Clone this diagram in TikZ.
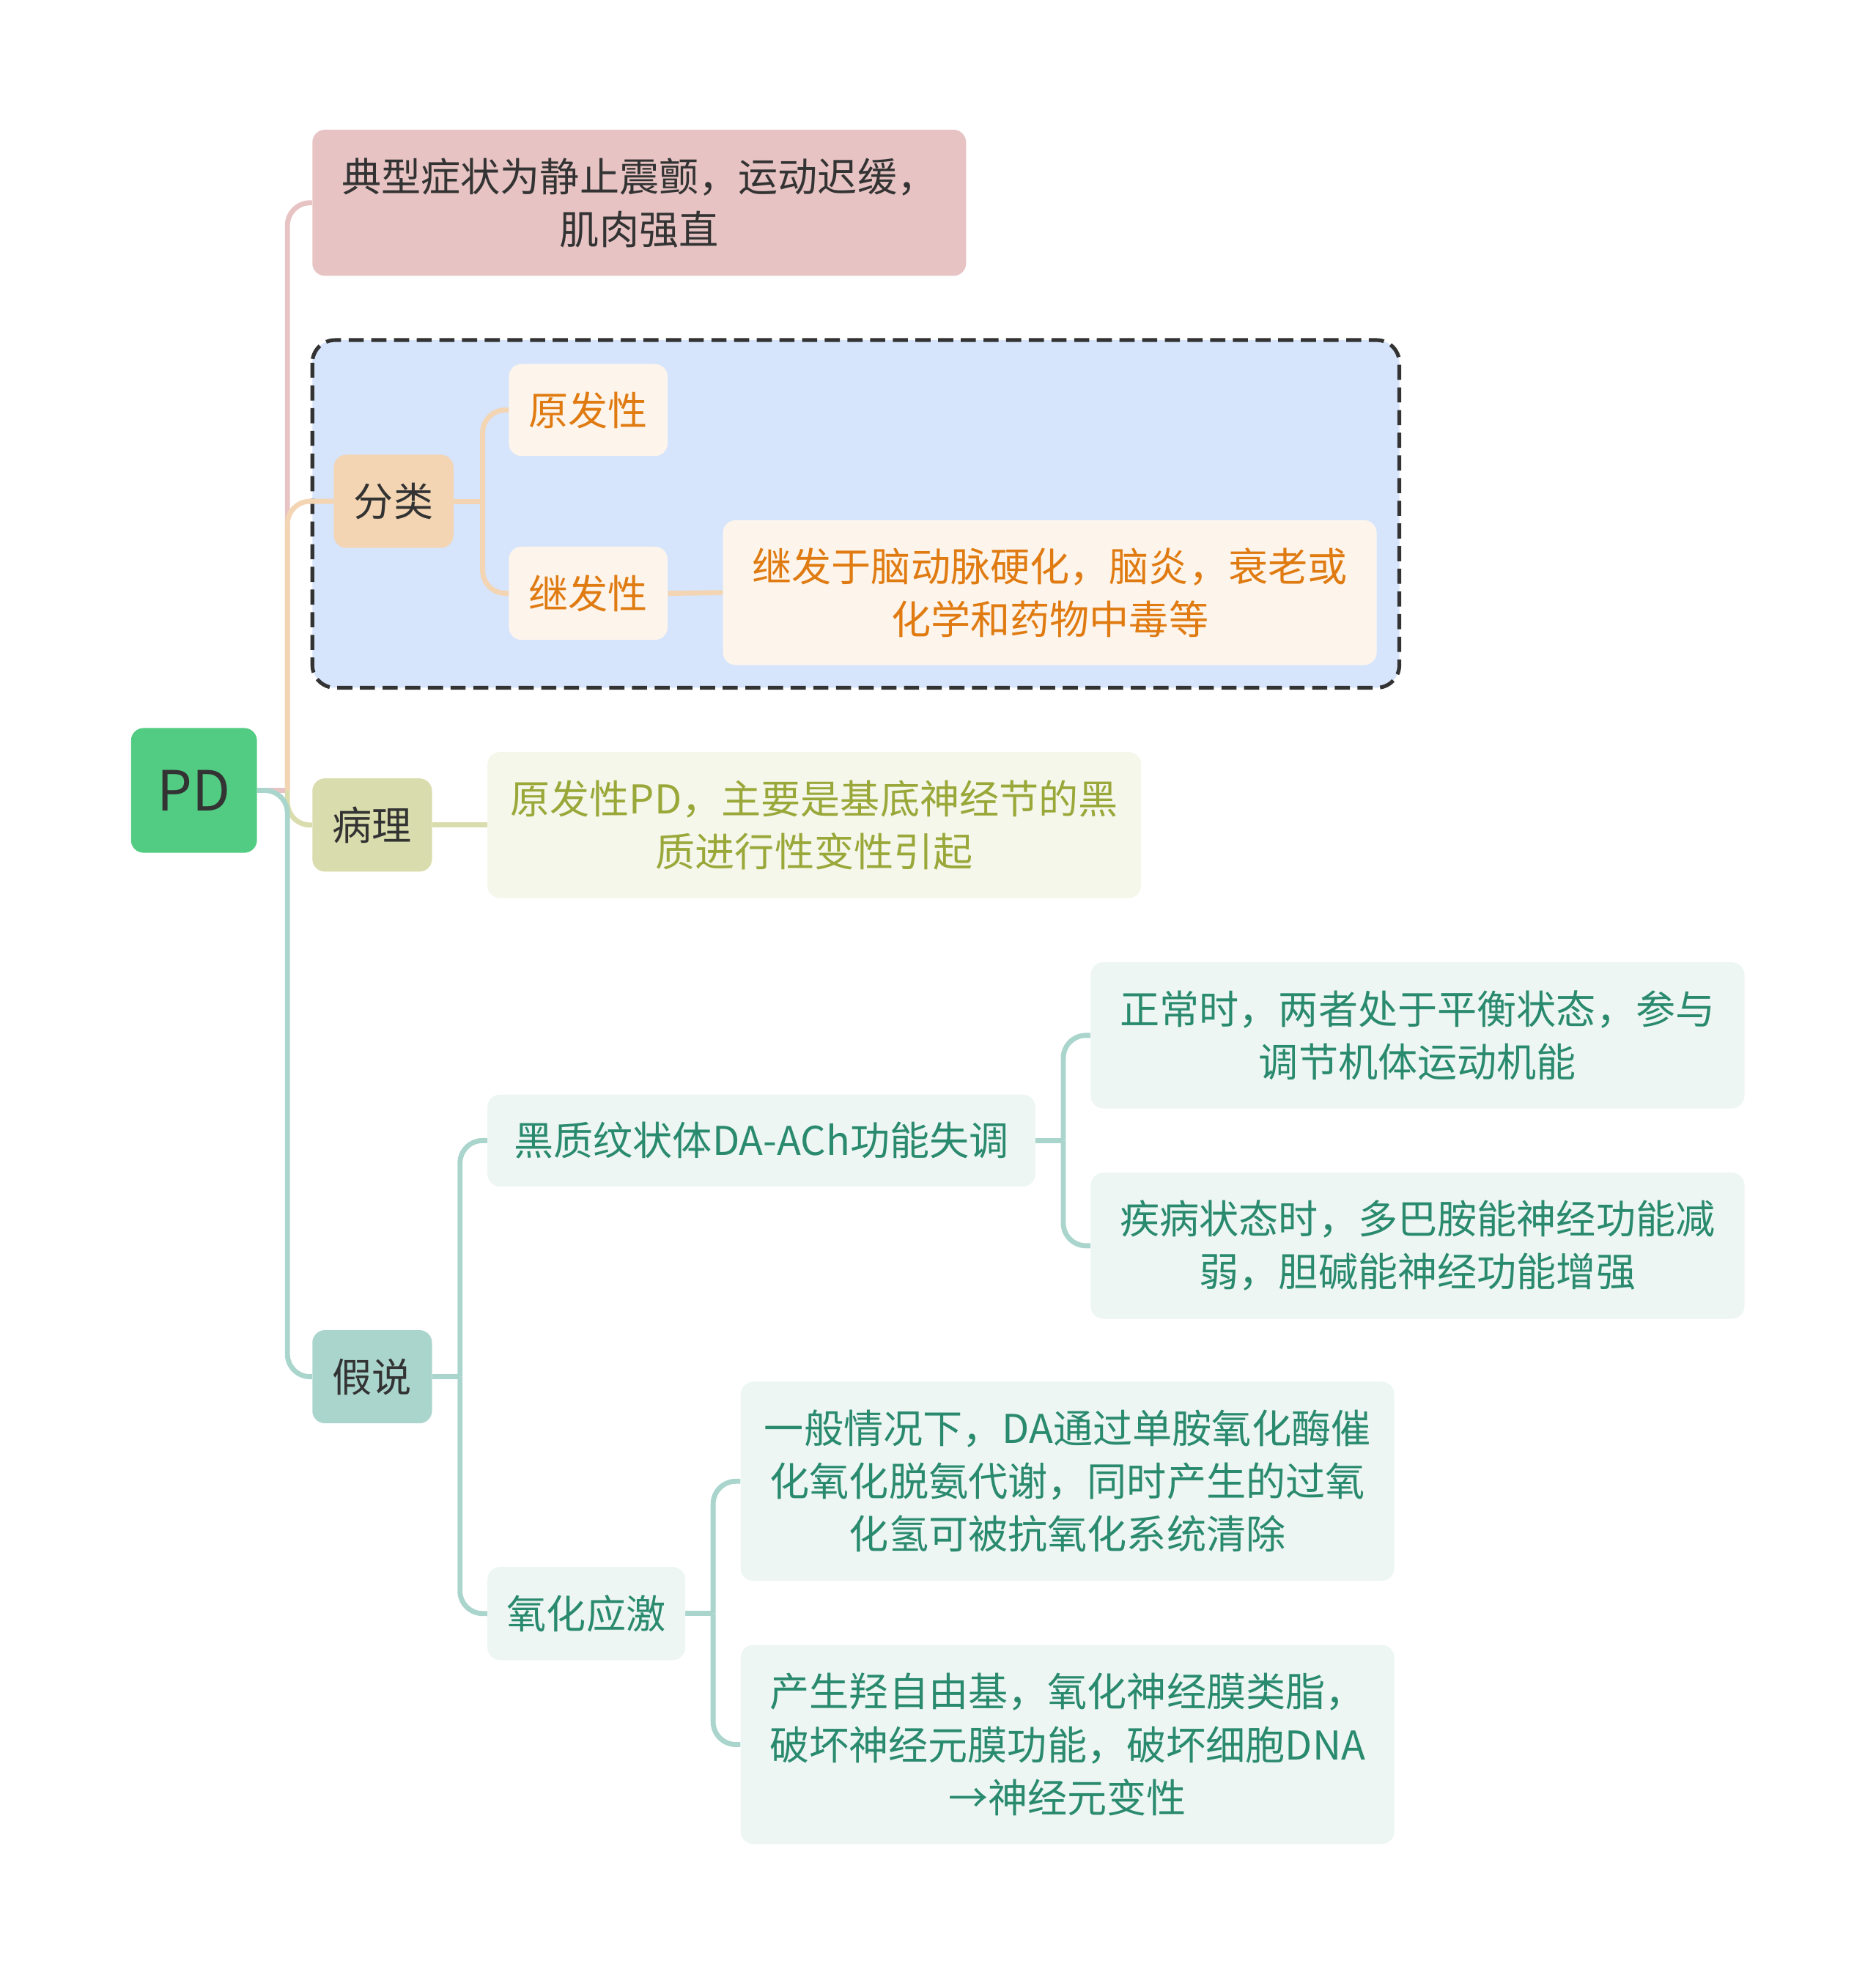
\documentclass[tikz,border=0pt]{standalone}
\usepackage{fontspec}
\setmainfont{Noto Sans CJK SC}
\usetikzlibrary{backgrounds}
\definecolor{rootgreen}{HTML}{52CC82}
\definecolor{darktext}{HTML}{333333}
\definecolor{pinkfill}{HTML}{E7C3C3}
\definecolor{groupblue}{HTML}{D6E4FC}
\definecolor{peachfill}{HTML}{F4D5B3}
\definecolor{peachlight}{HTML}{FDF5EC}
\definecolor{orangetext}{HTML}{E07B12}
\definecolor{olivefill}{HTML}{D9DCAC}
\definecolor{olivelight}{HTML}{F5F7EB}
\definecolor{olivetext}{HTML}{9AA83A}
\definecolor{tealfill}{HTML}{AAD5CC}
\definecolor{teallight}{HTML}{EDF6F3}
\definecolor{tealtext}{HTML}{2A8A6E}
\begin{document}
\begin{tikzpicture}[x=1pt,y=-1pt]
        \tikzstyle{topic}=[rectangle,rounded corners=10pt,inner sep=0pt,align=center,font=\fontsize{31.5}{42}\selectfont]
        \tikzstyle{root}=[topic,fill=rootgreen,text=darktext,minimum width=100pt,minimum height=99pt,font=\fontsize{44}{50}\selectfont]
        \tikzstyle{sub}=[topic,text=darktext,minimum width=95pt,minimum height=74pt]
        \tikzstyle{orange}=[topic,fill=peachlight,text=orangetext]
        \tikzstyle{olive}=[topic,fill=olivelight,text=olivetext]
        \tikzstyle{teal}=[topic,fill=teallight,text=tealtext]
        \tikzstyle{link}=[line width=4pt,rounded corners=18pt]
        \useasboundingbox (0,0) rectangle (1489,1568);
        % main topic and its branches
        \node [root] (pd) at (154,627.5) {PD};
        \node [topic,fill=pinkfill,text=darktext,minimum width=519pt,minimum height=116pt] (symptom) at (507.5,161) {典型症状为静止震颤，运动迟缓，\\肌肉强直};
        \node [sub,fill=peachfill] (kinds) at (312.5,398) {分类};
        \node [orange,minimum width=126pt,minimum height=73pt] (primary) at (467,325.5) {原发性};
        \node [orange,minimum width=126pt,minimum height=74pt] (secondary) at (467,471) {继发性};
        \node [orange,minimum width=519pt,minimum height=115pt] (secdesc) at (833.5,470.5) {继发于脑动脉硬化，脑炎，衰老或\\化学和药物中毒等};
        \node [sub,fill=olivefill] (patho) at (295.5,655) {病理};
        \node [olive,minimum width=519pt,minimum height=116pt] (pathodesc) at (646.5,655) {原发性PD，主要是基底神经节的黑\\质进行性变性引起};
        \node [sub,fill=tealfill] (hypo) at (295.5,1093) {假说};
        \node [teal,minimum width=435pt,minimum height=73pt] (daach) at (604.5,905.5) {黑质纹状体DA-ACh功能失调};
        \node [teal,minimum width=519pt,minimum height=116pt] (normal) at (1125.5,822) {正常时，两者处于平衡状态，参与\\调节机体运动机能};
        \node [teal,minimum width=519pt,minimum height=116pt] (disease) at (1125.5,989) {疾病状态时，多巴胺能神经功能减\\弱，胆碱能神经功能增强};
        \node [teal,minimum width=157pt,minimum height=74pt] (oxid) at (465.5,1281) {氧化应激};
        \node [teal,minimum width=519pt,minimum height=158pt] (usual) at (847.5,1176) {一般情况下，DA通过单胺氧化酶催\\化氧化脱氨代谢，同时产生的过氧\\化氢可被抗氧化系统清除};
        \node [teal,minimum width=519pt,minimum height=158pt] (radical) at (847.5,1385) {产生羟自由基，氧化神经膜类脂，\\破坏神经元膜功能，破坏细胞DNA\\→神经元变性};
        \begin{scope}[on background layer]
                \draw [fill=groupblue,draw=darktext,line width=3pt,dash pattern=on 12pt off 6pt,rounded corners=18pt] (248,270) rectangle (1111,546);
                % trunk from PD
                \draw [link,pinkfill] (pd.east) -- ++(24,0) coordinate (pdfork) (pdfork) |- (symptom.west);
                \draw [link,peachfill] (pdfork) |- (kinds.west);
                \draw [link,olivefill] (pdfork) |- (patho.west);
                \draw [link,tealfill] (pd.east) -- (pdfork) |- (hypo.west);
                % classification
                \draw [link,peachfill] (kinds.east) -- ++(23,0) coordinate (kindsfork);
                \draw [link,peachfill] (kindsfork) |- (primary.west);
                \draw [link,peachfill] (kindsfork) |- (secondary.west);
                \draw [link,peachfill] (secondary.east) -- (secdesc.west);
                \draw [link,olivefill] (patho.east) -- (pathodesc.west);
                % hypotheses
                \draw [link,tealfill] (hypo.east) -- ++(22,0) coordinate (hypofork);
                \draw [link,tealfill] (hypofork) |- (daach.west);
                \draw [link,tealfill] (hypofork) |- (oxid.west);
                \draw [link,tealfill] (daach.east) -- ++(22,0) coordinate (daachfork);
                \draw [link,tealfill] (daachfork) |- (normal.west);
                \draw [link,tealfill] (daachfork) |- (disease.west);
                \draw [link,tealfill] (oxid.east) -- ++(22,0) coordinate (oxidfork);
                \draw [link,tealfill] (oxidfork) |- (usual.west);
                \draw [link,tealfill] (oxidfork) |- (radical.west);
        \end{scope}
\end{tikzpicture}
\end{document}
